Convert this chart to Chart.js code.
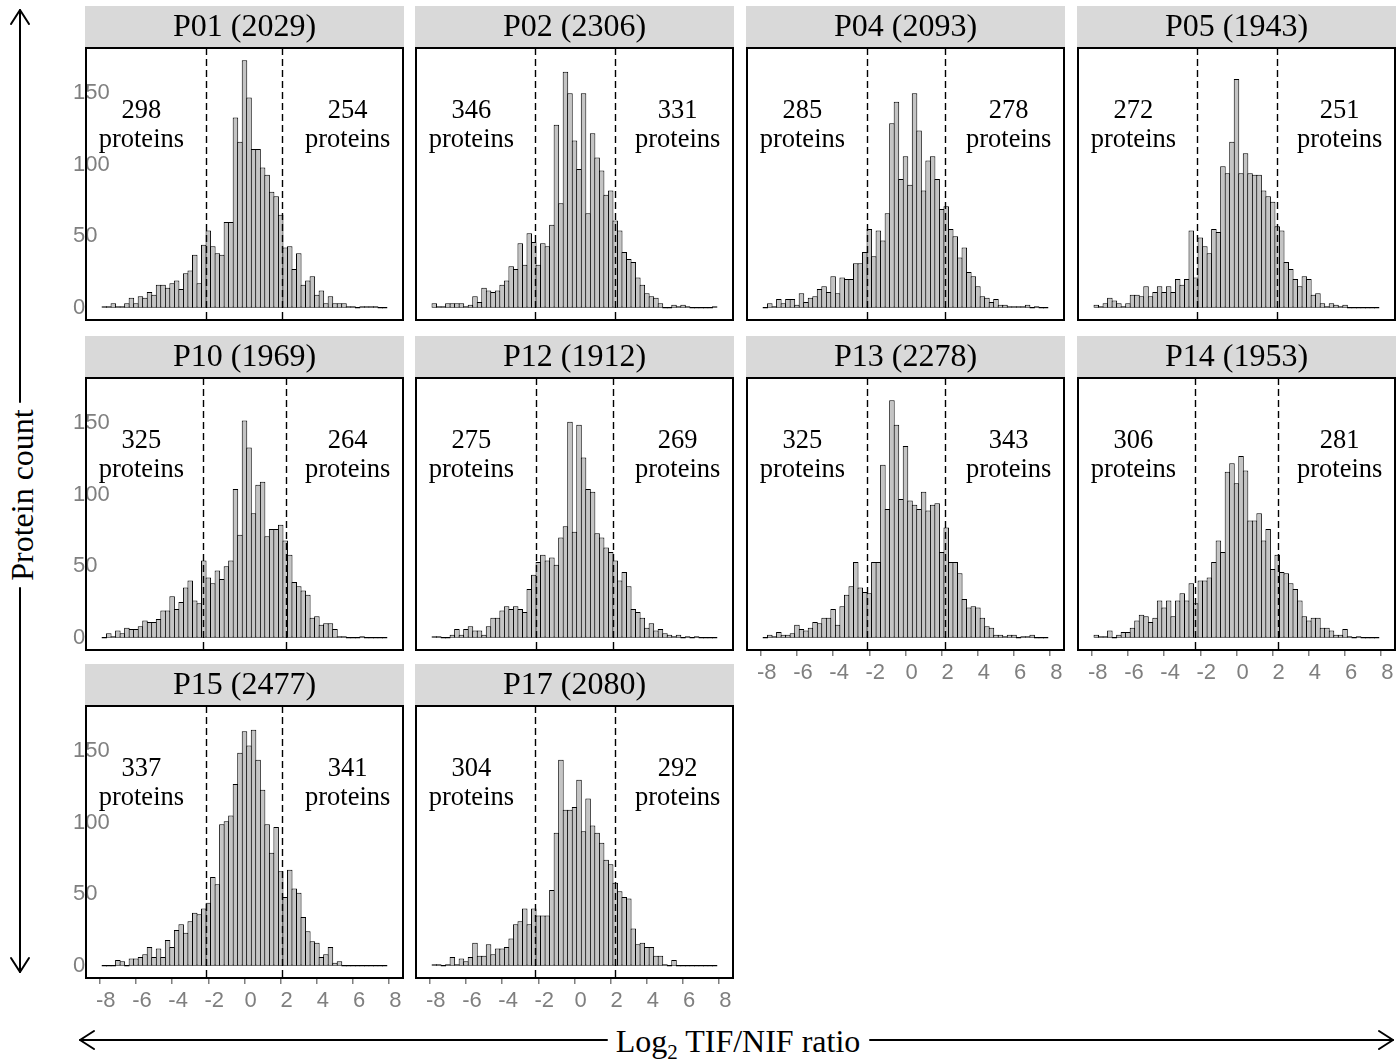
<!DOCTYPE html>
<html>
<head>
<meta charset="utf-8">
<script src="https://cdn.jsdelivr.net/npm/chart.js@4.4.1/dist/chart.umd.min.js"></script>
<style>
html, body { margin: 0; padding: 0; background: #ffffff; }
body { width: 1396px; height: 1063px; position: relative; overflow: hidden; }
.panel { position: absolute; }
#frame { position: absolute; left: 0; top: 0; }
</style>
</head>
<body>
<svg id="frame" width="1396" height="1063" xmlns="http://www.w3.org/2000/svg">
  <g stroke="#000" stroke-width="2" fill="none" stroke-linecap="round" stroke-linejoin="round">
    <line x1="20" y1="10" x2="20" y2="402"/>
    <line x1="20" y1="588" x2="20" y2="972"/>
    <polyline points="11,24 20,10 29,24"/>
    <polyline points="11,958 20,972 29,958"/>
    <line x1="80" y1="1040" x2="607" y2="1040"/>
    <line x1="870" y1="1040" x2="1393" y2="1040"/>
    <polyline points="94,1031 80,1040 94,1049"/>
    <polyline points="1379,1031 1393,1040 1379,1049"/>
  </g>
  <text transform="translate(33,495) rotate(-90)" text-anchor="middle" font-family="Liberation Serif" font-size="32" fill="#000">Protein count</text>
  <text x="738" y="1052" text-anchor="middle" font-family="Liberation Serif" font-size="32" fill="#000">Log<tspan font-size="21" dy="7">2</tspan><tspan dy="-7"> TIF/NIF ratio</tspan></text>
</svg>
<script>
// ---------------- data ----------------
const binCenters = [-7.75, -7.5, -7.25, -7, -6.75, -6.5, -6.25, -6, -5.75, -5.5, -5.25, -5, -4.75, -4.5, -4.25, -4,
  -3.75, -3.5, -3.25, -3, -2.75, -2.5, -2.25, -2, -1.75, -1.5, -1.25, -1, -0.75, -0.5, -0.25, 0,
  0.25, 0.5, 0.75, 1, 1.25, 1.5, 1.75, 2, 2.25, 2.5, 2.75, 3, 3.25, 3.5, 3.75, 4,
  4.25, 4.5, 4.75, 5, 5.25, 5.5, 5.75, 6, 6.25, 6.5, 6.75, 7, 7.25, 7.5, 7.75];

const panelIds = ['P01', 'P02', 'P04', 'P05', 'P10', 'P12', 'P13', 'P14', 'P15', 'P17'];
const panelTotals = [2029, 2306, 2093, 1943, 1969, 1912, 2278, 1953, 2477, 2080];
const leftCounts = [298, 346, 285, 272, 325, 275, 325, 306, 337, 304];
const rightCounts = [254, 331, 278, 251, 264, 269, 343, 281, 341, 292];
const lowerCuts = [-2.13, -2.18, -2.11, -2.20, -2.32, -2.11, -2.11, -2.30, -2.13, -2.18];
const upperCuts = [2.08, 2.22, 2.21, 2.23, 2.30, 2.13, 2.21, 2.31, 2.08, 2.22];

const countsP01 = [1,1,3,1,1,3,7,3,8,7,11,9,16,16,14,17,19,13,24,26,37,17,44,54,43,38,37,60,60,133,116,173,147,111,111,98,93,81,78,65,42,43,27,38,16,19,22,9,12,3,8,3,3,3,1,1,0,1,1,1,1,0,0];
const countsP02 = [3,1,1,3,3,3,3,1,2,8,4,14,12,11,12,16,19,29,27,45,30,52,46,30,45,43,58,128,73,165,150,117,97,150,66,122,105,96,79,82,61,54,39,34,32,21,16,10,8,7,3,0,0,2,1,2,1,0,0,0,0,0,1];
const countsP04 = [0,3,1,6,3,6,6,2,10,4,7,8,13,15,11,22,10,21,20,20,31,31,39,55,36,54,47,66,129,144,90,106,86,150,124,82,103,106,90,69,71,55,50,35,42,25,22,15,8,7,4,6,2,2,1,1,1,1,2,0,1,0,0];
const countsP05 = [2,1,3,7,5,3,1,3,9,9,8,15,8,11,15,11,15,11,20,16,20,54,21,49,43,38,55,53,99,94,116,160,94,108,94,93,93,82,78,74,57,54,32,27,20,15,22,20,9,10,3,1,3,2,1,2,0,0,0,0,0,0,0];
const countsP10 = [0,3,1,5,3,7,6,6,8,12,11,11,13,19,19,29,20,25,35,40,26,24,54,42,38,47,41,50,54,104,72,152,133,87,107,109,71,76,76,79,68,58,39,36,33,30,14,15,9,10,10,6,1,1,0,0,0,1,0,0,0,0,0];
const countsP12 = [1,1,0,0,2,6,2,6,8,5,5,2,8,14,14,19,22,20,22,20,18,34,44,53,58,54,56,51,70,78,151,74,149,126,104,102,73,70,63,60,54,40,46,36,20,18,14,7,10,5,6,3,2,1,2,0,1,0,1,0,0,0,0];
const countsP13 = [0,2,1,4,2,2,3,9,6,5,7,11,10,14,14,20,9,22,30,36,53,35,32,31,53,53,121,90,166,149,97,134,96,93,90,102,89,93,94,60,77,53,53,45,27,21,22,21,14,8,7,2,2,1,2,2,0,1,1,2,0,0,0];
const countsP14 = [2,1,1,5,0,2,4,4,7,12,16,15,11,14,26,21,26,15,26,31,26,38,24,40,40,42,53,68,60,116,122,108,127,117,82,82,87,68,76,48,58,46,45,38,34,26,15,12,14,14,7,7,5,2,2,6,1,0,1,0,0,0,0];
const countsP15 = [0,0,0,4,3,0,5,5,6,8,13,6,12,6,18,13,25,29,23,31,37,36,40,44,62,57,99,101,105,127,149,164,154,165,144,123,99,79,97,66,48,67,54,51,34,24,17,16,6,8,13,2,3,0,0,0,0,0,0,0,0,0,0];
const countsP17 = [1,1,0,1,6,1,5,3,6,16,7,7,15,8,12,12,13,19,29,31,40,29,40,35,35,35,53,93,144,109,109,111,130,94,117,98,93,86,74,71,58,52,48,47,26,15,16,13,13,7,7,1,0,4,0,0,0,0,0,0,0,0,0];
const panelCounts = [countsP01, countsP02, countsP04, countsP05, countsP10, countsP12, countsP13, countsP14, countsP15, countsP17];

const xTickValues = [-8, -6, -4, -2, 0, 2, 4, 6, 8];
const yTickValues = [0, 50, 100, 150];

// ---------------- layout / style ----------------
const X_MIN = -8.76, X_MAX = 8.76;
const Y_MIN = -8.65, Y_MAX = 181.65;
const BOX_LEFT = [86, 416, 747, 1078];
const BOX_TOP = [48, 378, 706];
const BOX_W = 317, BOX_H = 272, HEAD_H = 43, AX_H = 40, SIDE = 14;
const CANVAS_W = BOX_W + 2 * SIDE, CANVAS_H = HEAD_H + BOX_H + AX_H;
const LABEL_X = 5.7, NUM_Y = 132.5, WORD_Y = 112.7;
const GREY_TXT = '#7f7f7f';

const decoPlugin = {
  id: 'deco',
  beforeDraw(chart) {
    const a = chart.chartArea, ctx = chart.ctx;
    ctx.save();
    ctx.fillStyle = '#d9d9d9';
    ctx.fillRect(a.left - 1, a.top - 42, a.right - a.left + 2, 42);
    ctx.restore();
  },
  afterDatasetsDraw(chart, args, opts) {
    const a = chart.chartArea, ctx = chart.ctx, xs = chart.scales.x, ys = chart.scales.y;
    ctx.save();
    ctx.strokeStyle = '#000';
    ctx.lineWidth = 1.4;
    ctx.setLineDash([7, 4]);
    [opts.lower, opts.upper].forEach(v => {
      const px = Math.round(xs.getPixelForValue(v)) + 0.5;
      ctx.beginPath();
      ctx.moveTo(px, a.top);
      ctx.lineTo(px, a.bottom);
      ctx.stroke();
    });
    ctx.setLineDash([]);
    ctx.fillStyle = '#000';
    ctx.font = '26.5px "Liberation Serif"';
    ctx.textAlign = 'center';
    ctx.textBaseline = 'alphabetic';
    const lx = xs.getPixelForValue(-LABEL_X), rx = xs.getPixelForValue(LABEL_X);
    const ny = ys.getPixelForValue(NUM_Y), wy = ys.getPixelForValue(WORD_Y);
    ctx.fillText(String(opts.leftN), lx, ny);
    ctx.fillText('proteins', lx, wy);
    ctx.fillText(String(opts.rightN), rx, ny);
    ctx.fillText('proteins', rx, wy);
    ctx.lineWidth = 2;
    ctx.strokeRect(a.left, a.top, a.right - a.left, a.bottom - a.top);
    ctx.restore();
  }
};

panelIds.forEach((id, i) => {
  const col = i % 4, row = Math.floor(i / 4);
  const showX = row === 2 || (row === 1 && col >= 2);
  const showY = col === 0;
  const div = document.createElement('div');
  div.className = 'panel';
  div.style.left = (BOX_LEFT[col] - SIDE) + 'px';
  div.style.top = (BOX_TOP[row] - HEAD_H) + 'px';
  const cv = document.createElement('canvas');
  cv.width = CANVAS_W; cv.height = CANVAS_H;
  cv.style.width = CANVAS_W + 'px'; cv.style.height = CANVAS_H + 'px';
  div.appendChild(cv);
  document.body.appendChild(div);

  const counts = panelCounts[i];
  new Chart(cv, {
    type: 'bar',
    data: {
      datasets: [{
        data: binCenters.map((c, k) => ({ x: c, y: counts[k] })),
        backgroundColor: '#c4c4c4',
        borderColor: '#000000',
        borderWidth: 1,
        borderSkipped: false,
        barPercentage: 1.22,
        categoryPercentage: 1,
        minBarLength: 1.5
      }]
    },
    options: {
      responsive: false,
      animation: false,
      events: [],
      layout: { padding: 0 },
      plugins: {
        legend: { display: false },
        tooltip: { enabled: false },
        title: {
          display: true,
          text: id + ' (' + panelTotals[i] + ')',
          color: '#000',
          font: { family: 'Liberation Serif', size: 32, weight: 'normal', lineHeight: 1.2 },
          padding: { top: 3.3, bottom: 1.3 }
        },
        deco: { lower: lowerCuts[i], upper: upperCuts[i], leftN: leftCounts[i], rightN: rightCounts[i] }
      },
      scales: {
        x: {
          type: 'linear', position: 'bottom', min: X_MIN, max: X_MAX, offset: false,
          afterBuildTicks: s => { s.ticks = xTickValues.map(v => ({ value: v })); },
          afterFit: s => { s.height = AX_H; },
          grid: { display: showX, offset: false, drawOnChartArea: false, drawTicks: true, tickLength: 6, color: GREY_TXT, lineWidth: 1.5 },
          border: { display: false },
          ticks: { display: showX, autoSkip: false, maxRotation: 0, labelOffset: 6, padding: 4, color: GREY_TXT,
                   font: { family: 'Liberation Sans', size: 22 } }
        },
        y: {
          type: 'linear', position: 'left', min: Y_MIN, max: Y_MAX,
          afterBuildTicks: s => { s.ticks = yTickValues.map(v => ({ value: v })); },
          afterFit: s => { s.width = SIDE; },
          grid: { display: false, drawTicks: false },
          border: { display: false },
          ticks: { display: showY, mirror: true, crossAlign: 'near', padding: -13, color: GREY_TXT,
                   font: { family: 'Liberation Sans', size: 22 }, callback: v => String(v) }
        },
        yR: {
          type: 'linear', position: 'right',
          afterFit: s => { s.width = SIDE; },
          grid: { display: false, drawTicks: false },
          border: { display: false },
          ticks: { display: false }
        }
      }
    },
    plugins: [decoPlugin]
  });
});
</script>
</body>
</html>
